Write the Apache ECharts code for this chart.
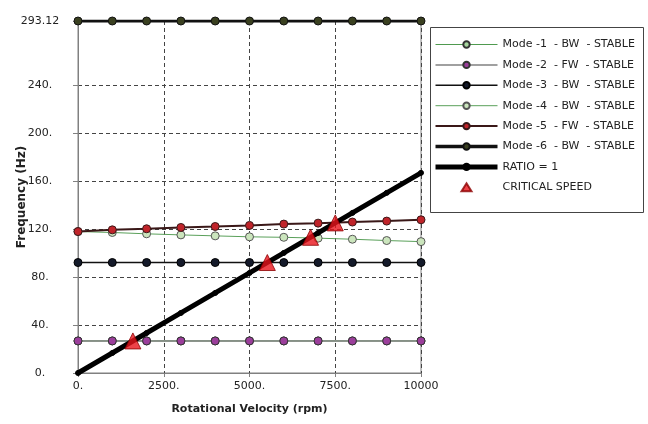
<!DOCTYPE html>
<html><head><meta charset="utf-8">
<script src="https://cdn.jsdelivr.net/npm/echarts@6/dist/echarts.min.js"></script>
<style>html,body{margin:0;padding:0;background:#fff}#c{width:648px;height:424px}</style>
</head><body><div id="c"></div>
<script>
const rpm = [0,1000,2000,3000,4000,5000,6000,7000,8000,9000,10000];
const mode1 = [26.7,26.7,26.7,26.7,26.7,26.7,26.7,26.7,26.7,26.7,26.7];
const mode2 = [26.7,26.7,26.7,26.7,26.7,26.7,26.7,26.7,26.7,26.7,26.7];
const mode3 = [92,92,92,92,92,92,92,92,92,92,92];
const mode4 = [117.8,117,115.9,115,114.2,113.4,113,112.3,111.4,110.3,109.4];
const mode5 = [117.8,119.2,120.1,121.2,122,122.9,124,124.8,125.7,126.5,127.6];
const mode6 = [293.12,293.12,293.12,293.12,293.12,293.12,293.12,293.12,293.12,293.12,293.12];
const ratio = [0,16.67,33.33,50,66.67,83.33,100,116.67,133.33,150,166.67];
const critRpm = [1600,5520,6780,7500];
const critHz = [26.7,92,113,125];
const yTicks = [0,40,80,120,160,200,240,293.12];
const names = ['Mode -1  - BW  - STABLE','Mode -2  - FW  - STABLE','Mode -3  - BW  - STABLE','Mode -4  - BW  - STABLE','Mode -5  - FW  - STABLE','Mode -6  - BW  - STABLE','RATIO = 1','CRITICAL SPEED'];
const legendWidths = [1,1.5,1.5,1,2,3.5,5];

const pair = (ys) => rpm.map((x,i)=>[x,ys[i]]);
const font = 'Tahoma, "DejaVu Sans", sans-serif';
function lineSeries(name, ys, lc, lw, fill, border, size, z){
  return {type:'line', name, data:pair(ys), symbol:'circle', symbolSize:size, z,
    lineStyle:{color:lc,width:lw}, itemStyle:{color:fill,borderColor:border,borderWidth:1}, emphasis:{disabled:true}};
}
const legendData = names.map((n,i)=> i<7 ? {name:n, lineStyle:{width:legendWidths[i]}} :
  {name:n, icon:'path://M5,0L10,8L0,8Z'});
const chart = echarts.init(document.getElementById('c'), null, {renderer:'canvas'});
chart.setOption({
  animation:false,
  textStyle:{fontFamily:font},
  grid:{left:78,right:227,top:21,bottom:51,containLabel:false,outerBoundsMode:'none',show:true,borderColor:'#808080',borderWidth:1,backgroundColor:'transparent'},
  xAxis:{type:'value',min:0,max:10000,interval:2500,
    name:'Rotational Velocity (rpm)',nameLocation:'middle',nameGap:31,nameMoveOverlap:false,
    nameTextStyle:{fontWeight:'bold',fontSize:11,color:'#222',fontFamily:font},
    axisLine:{lineStyle:{color:'#808080'}},axisTick:{show:true,length:4,lineStyle:{color:'#808080'}},
    axisLabel:{color:'#222',fontSize:11,margin:8,fontFamily:font,formatter:v=>v===10000?'10000':v+'.'},
    splitLine:{show:true,lineStyle:{color:'#444',type:[4,3],width:1}}},
  yAxis:{type:'value',min:0,max:293.12,
    name:'Frequency (Hz)',nameLocation:'middle',nameGap:50,nameRotate:90,nameMoveOverlap:false,
    nameTextStyle:{fontWeight:'bold',fontSize:12,color:'#222',fontFamily:font},
    axisLine:{show:true,lineStyle:{color:'#808080'}},
    axisTick:{show:true,length:5,lineStyle:{color:'#808080'},customValues:yTicks},
    axisLabel:{color:'#222',fontSize:11,margin:38,align:'center',fontFamily:font,customValues:yTicks,
      formatter:v=>(Math.abs(v-293.12)<0.01?'293.12':Math.round(v)+'.')},
    splitLine:{show:true,lineStyle:{color:'#444',type:[4,3],width:1}}},
  legend:{orient:'vertical',left:433,top:39,padding:0,itemWidth:62,itemHeight:8,itemGap:9.4,symbolKeepAspect:true,
    textStyle:{fontSize:11,color:'#222',fontFamily:font},data:legendData},
  graphic:[{type:'rect',shape:{x:430.5,y:27.5,width:213,height:185},style:{fill:'none',stroke:'#444',lineWidth:1},z:0}],
  series:[
    lineSeries(names[0],mode1,'#4f9a4f',1,'#a6d59e','#333',8,2),
    lineSeries(names[1],mode2,'#808080',1.5,'#9b3e9b','#333',8,3),
    lineSeries(names[2],mode3,'#111',1.5,'#141a2a','#000',8,3),
    lineSeries(names[3],mode4,'#5aa05a',1,'#cbe5bd','#555',8,3),
    lineSeries(names[4],mode5,'#3a1818',2,'#c0242a','#3a1818',8,4),
    lineSeries(names[5],mode6,'#111',3,'#3a4020','#111',8,4),
    lineSeries(names[6],ratio,'#000',5,'#000','#000',5,5),
    {type:'scatter',name:names[7],data:critRpm.map((x,i)=>[x,critHz[i]]),symbol:'triangle',symbolSize:16,z:6,
      itemStyle:{color:'#e8141c',borderColor:'#8b0000',borderWidth:1},emphasis:{disabled:true}}
  ]
});
</script></body></html>
